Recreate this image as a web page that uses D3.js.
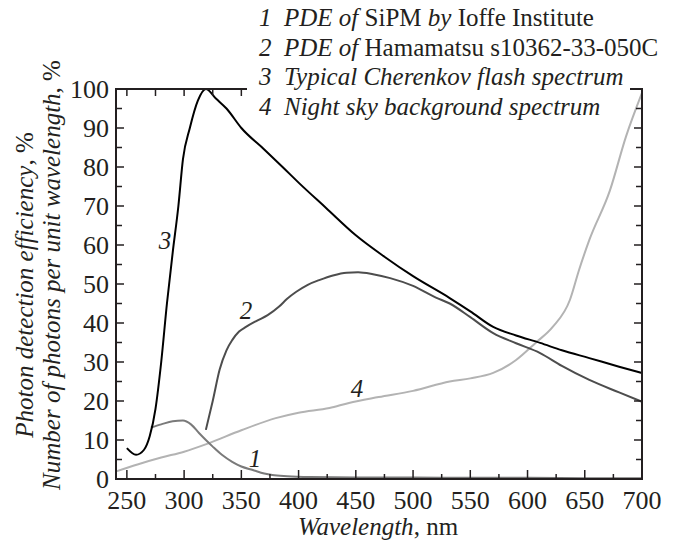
<!DOCTYPE html>
<html>
<head>
<meta charset="utf-8">
<script src="https://cdn.jsdelivr.net/npm/d3@7"></script>
<style>
  body { margin: 0; background: #fff; }
  svg text { font-family: "Liberation Serif", "Times New Roman", serif; fill: #231f20; }
</style>
</head>
<body>
<svg id="chart" width="678" height="541"></svg>
<script>
// wavelength (nm) / value (%) pairs
var sipmIoffe = [[271,13.2],[280,14],[290,14.8],[299,15],[306,14],[313,11.8],[319,10],[325,8.3],[333,6.2],[342,4.4],
  [350,3.2],[360,2.3],[370,1.4],[377,1],[390,0.7],[410,0.5],[450,0.4],[500,0.4],[550,0.3],[600,0.3],[650,0.2],[700,0.2]];
var hamamatsu = [[319,12.6],[325,20],[331,28],[337,33],[342,35.6],[348,37.8],[354,39],[363,40.5],[373,42],[383,44.2],
  [390,46.2],[398,48],[408,49.8],[418,51],[430,52.2],[442,52.9],[452,53],[465,52.5],[480,51.5],[500,49.5],[520,46.5],
  [532,45],[550,41.5],[570,37.4],[590,34.8],[611,32.3],[630,29],[654,25.4],[680,22.2],[700,19.8]];
var cherenkov = [[250,7.9],[258,6.2],[265,7.5],[270,11],[275,18],[280,30],[285,45],[290,58],[295,70],[299,82],
  [305,90],[312,97],[319,100],[328,97.5],[337,95],[350,90],[370,84.5],[386,80],[400,76],[424,69.5],[450,62.5],
  [475,57],[500,52],[532,46.4],[550,43],[570,39],[590,36.8],[611,34.9],[630,33],[654,31],[680,28.8],[700,27.2]];
var nightSky = [[240,1.9],[260,3.8],[280,5.5],[300,7],[320,9],[350,12.5],[380,15.6],[400,17],[427,18.2],[444,19.5],
  [470,21],[500,22.6],[532,25],[550,25.8],[570,27.2],[590,30.5],[607,34.9],[622,39],[637,45.9],[645,53.6],
  [654,61.3],[672,74],[686,87.8],[700,99]];

var xTicks = [250, 300, 350, 400, 450, 500, 550, 600, 650, 700];
var yTicks = [0, 10, 20, 30, 40, 50, 60, 70, 80, 90, 100];

var legendItems = [
  ["1", [["PDE of", true], [" SiPM ", false], ["by", true], [" Ioffe Institute", false]]],
  ["2", [["PDE of", true], [" Hamamatsu s10362-33-050C", false]]],
  ["3", [["Typical Cherenkov flash spectrum", true]]],
  ["4", [["Night sky background spectrum", true]]]
];

var svg = d3.select("#chart");
var pLeft = 116, pRight = 642, pTop = 89, pBottom = 479;

var x = d3.scaleLinear().domain([240.5, 700]).range([pLeft, pRight]);
var y = d3.scaleLinear().domain([0, 100]).range([pBottom, pTop]);

var line = d3.line()
  .x(function(d) { return x(d[0]); })
  .y(function(d) { return y(d[1]); })
  .curve(d3.curveMonotoneX);

// curves
var series = [
  {data: nightSky, color: "#b3b3b3", w: 2},
  {data: sipmIoffe, color: "#7a7a7a", w: 2},
  {data: hamamatsu, color: "#4d4d4d", w: 2},
  {data: cherenkov, color: "#000000", w: 2}
];
series.forEach(function(s) {
  svg.append("path")
    .attr("d", line(s.data))
    .attr("fill", "none")
    .attr("stroke", s.color)
    .attr("stroke-width", s.w);
});

// frame
var frame = svg.append("g").attr("stroke", "#231f20").attr("stroke-width", 2).attr("fill", "none");
frame.append("line").attr("x1", pLeft).attr("x2", pRight).attr("y1", pBottom).attr("y2", pBottom);
frame.append("line").attr("x1", pLeft).attr("x2", pLeft).attr("y1", pBottom + 1).attr("y2", pTop - 1);
frame.append("line").attr("x1", pRight).attr("x2", pRight).attr("y1", pBottom + 1).attr("y2", pTop - 1);
frame.append("line").attr("x1", pLeft).attr("x2", 247).attr("y1", pTop).attr("y2", pTop);
frame.append("line").attr("x1", 630).attr("x2", pRight).attr("y1", pTop).attr("y2", pTop);

// x ticks (majors every 50, minors every 25)
var xMinor = d3.range(275, 700, 50);
var tk = svg.append("g").attr("stroke", "#231f20").attr("stroke-width", 1.5);
xTicks.forEach(function(v) {
  tk.append("line").attr("x1", x(v)).attr("x2", x(v)).attr("y1", pBottom).attr("y2", pBottom - 9);
});
xMinor.forEach(function(v) {
  tk.append("line").attr("x1", x(v)).attr("x2", x(v)).attr("y1", pBottom).attr("y2", pBottom - 5);
});
[250, 275, 300, 325, 350].forEach(function(v) {
  tk.append("line").attr("x1", x(v)).attr("x2", x(v)).attr("y1", pTop).attr("y2", pTop + 7);
});

// y ticks every 5 on both sides
d3.range(5, 100, 5).forEach(function(v) {
  var len = v % 10 === 0 ? 8 : 6;
  tk.append("line").attr("x1", pLeft).attr("x2", pLeft + len).attr("y1", y(v)).attr("y2", y(v));
  tk.append("line").attr("x1", pRight).attr("x2", pRight - len).attr("y1", y(v)).attr("y2", y(v));
});

// tick labels
svg.append("g").selectAll("text").data(xTicks).enter().append("text")
  .attr("x", function(d) { return x(d); })
  .attr("y", 509)
  .attr("text-anchor", "middle")
  .attr("font-size", 26)
  .text(function(d) { return d; });

svg.append("g").selectAll("text").data(yTicks).enter().append("text")
  .attr("x", 109)
  .attr("y", function(d) { return y(d) + 9; })
  .attr("text-anchor", "end")
  .attr("font-size", 26)
  .text(function(d) { return d; });

// axis titles
var xt = svg.append("text").attr("x", 378).attr("y", 535).attr("text-anchor", "middle").attr("font-size", 25);
xt.append("tspan").attr("font-style", "italic").text("Wavelength");
xt.append("tspan").text(", nm");

var yt1 = svg.append("text").attr("transform", "translate(33,285) rotate(-90)")
  .attr("text-anchor", "middle").attr("font-size", 25);
yt1.append("tspan").attr("font-style", "italic").text("Photon detection efficiency");
yt1.append("tspan").text(", %");

var yt2 = svg.append("text").attr("transform", "translate(60,275) rotate(-90)")
  .attr("text-anchor", "middle").attr("font-size", 25);
yt2.append("tspan").attr("font-style", "italic").text("Number of photons per unit wavelength");
yt2.append("tspan").text(", %");

// legend
legendItems.forEach(function(item, i) {
  var t = svg.append("text").attr("x", 259).attr("y", 26 + i * 29.5).attr("font-size", 25)
    .attr("xml:space", "preserve");
  t.append("tspan").attr("font-style", "italic").text(item[0] + "  ");
  item[1].forEach(function(p) {
    t.append("tspan").attr("font-style", p[1] ? "italic" : "normal").text(p[0]);
  });
});

// curve labels
var curveLabels = [["1", 255, 467], ["2", 246, 319], ["3", 165, 249], ["4", 357, 397]];
svg.append("g").selectAll("text").data(curveLabels).enter().append("text")
  .attr("x", function(d) { return d[1]; })
  .attr("y", function(d) { return d[2]; })
  .attr("text-anchor", "middle")
  .attr("font-style", "italic")
  .attr("font-size", 25)
  .text(function(d) { return d[0]; });
</script>
</body>
</html>
